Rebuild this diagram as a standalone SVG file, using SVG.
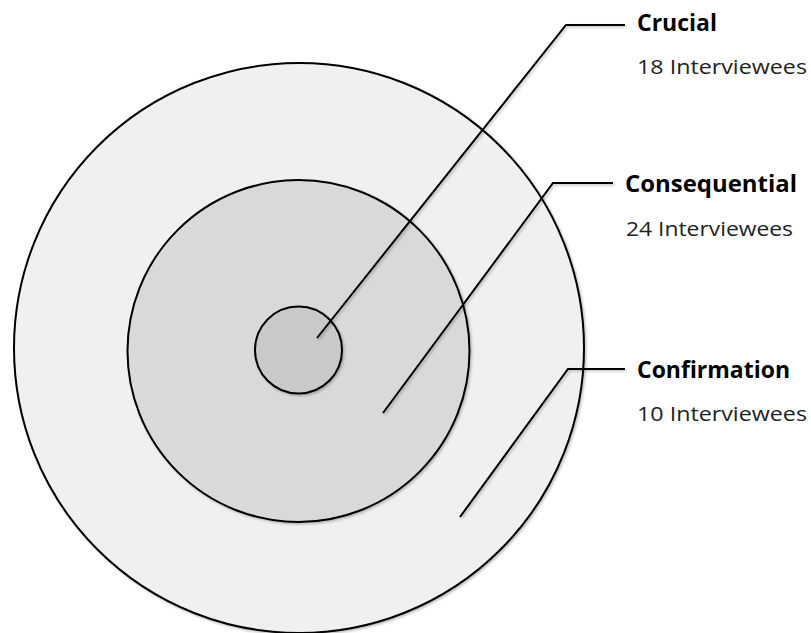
<svg xmlns="http://www.w3.org/2000/svg" width="811" height="633" viewBox="0 0 811 633">
<defs>
<filter id="sh" x="-10%" y="-10%" width="120%" height="120%">
<feDropShadow dx="1.5" dy="1.5" stdDeviation="1.2" flood-color="#000" flood-opacity="0.25"/>
</filter>
</defs>
<style>
.ring{stroke:#000;stroke-width:2;filter:url(#sh)}
.lead{fill:none;stroke:#000;stroke-width:2;filter:url(#sh)}
.t{font-family:"Open Sans","Liberation Sans",sans-serif;font-weight:bold;font-size:23px;fill:#000}
.s{font-family:"Open Sans","Liberation Sans",sans-serif;font-size:20px;fill:#222}
</style>
<rect width="811" height="633" fill="#fff"/>
<g id="confirmation">
<circle class="ring" cx="299" cy="348" r="285" fill="#f0f0f0"/>
</g>
<g id="consequential">
<circle class="ring" cx="298.5" cy="351" r="171" fill="#d9d9d9"/>
</g>
<g id="crucial">
<circle class="ring" cx="298.5" cy="350" r="43.5" fill="#c9c9c9"/>
</g>
<g id="connectors">
<polyline class="lead" points="317,338 566,25 625,25"/>
<polyline class="lead" points="383,413 553,183 613,183"/>
<polyline class="lead" points="460,517 568,369 625,369"/>
</g>
<g id="label-crucial">
<text class="t" x="637" y="31" textLength="80" lengthAdjust="spacingAndGlyphs">Crucial</text>
<text class="s" x="637" y="74" textLength="170" lengthAdjust="spacingAndGlyphs">18 Interviewees</text>
</g>
<g id="label-consequential">
<text class="t" x="625" y="192" textLength="172" lengthAdjust="spacingAndGlyphs">Consequential</text>
<text class="s" x="626" y="236" textLength="167" lengthAdjust="spacingAndGlyphs">24 Interviewees</text>
</g>
<g id="label-confirmation">
<text class="t" x="637" y="378" textLength="153" lengthAdjust="spacingAndGlyphs">Confirmation</text>
<text class="s" x="637" y="421" textLength="170" lengthAdjust="spacingAndGlyphs">10 Interviewees</text>
</g>
</svg>
